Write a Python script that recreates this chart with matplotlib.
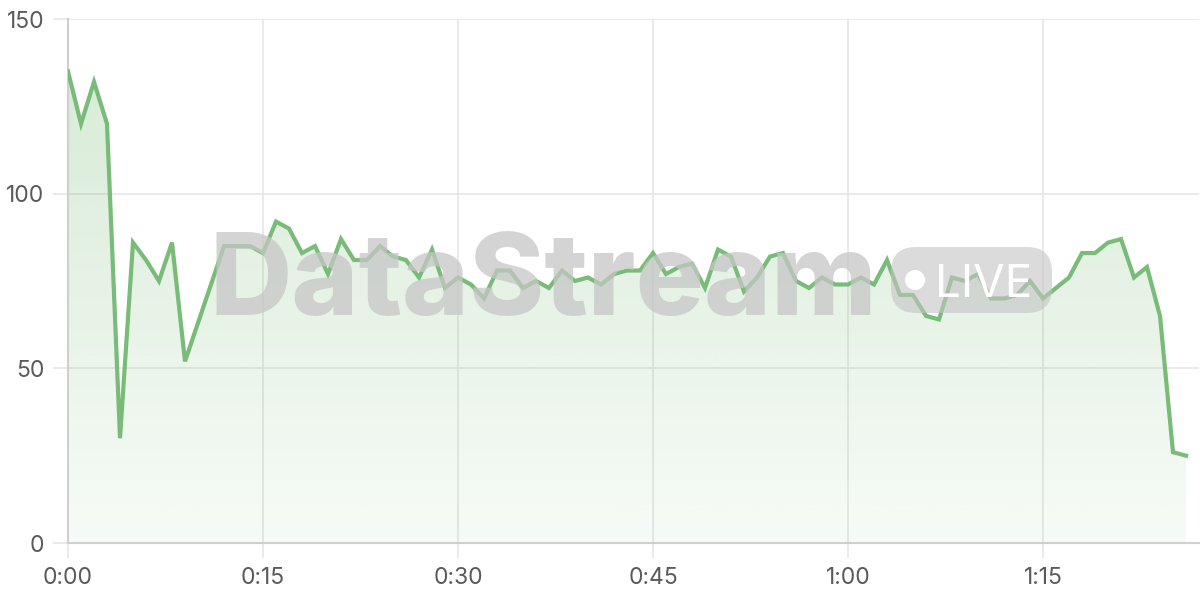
import numpy as np
import matplotlib
matplotlib.use("Agg")
import matplotlib.pyplot as plt
from matplotlib.patches import FancyBboxPatch, Circle

# minutes since start, one reading per minute
minutes = list(range(87))
values = [135, 120, 132, 120, 30, 86, 81, 75, 86, 52,
          63, 74, 85, 85, 85, 83, 92, 90, 83, 85,
          77, 87, 81, 81, 85, 82, 81, 76, 84, 73,
          76, 74, 70, 78, 78, 73, 75, 73, 78, 75,
          76, 74, 77, 78, 78, 83, 77, 79, 80, 73,
          84, 82, 72, 76, 82, 83, 75, 73, 76, 74,
          74, 76, 74, 81, 71, 71, 65, 64, 76, 75,
          77, 70, 70, 71, 75, 70, 73, 76, 83, 83,
          86, 87, 76, 79, 65, 26, 25]
x_ticks = [0, 15, 30, 45, 60, 75]
y_ticks = [0, 50, 100, 150]

line_color = "#79bc79"
grid_color = "#e6e6e6"
axis_color = "#cfcfcf"
label_color = "#5a5a5a"

plt.rcParams['font.family'] = ['Inter', 'DejaVu Sans']

fig = plt.figure(figsize=(12, 6), dpi=100)
ax = fig.add_axes([68 / 1200, 57 / 600, 1131 / 1200, 524 / 600])

# watermark behind the chart (placed in inches from the bottom-left corner)
inch = fig.dpi_scale_trans
fig.text(2.1, 6 - 3.15, "DataStream", transform=inch, fontsize=82,
         fontweight="heavy", color="#c6c6c6", alpha=0.75,
         ha="left", va="baseline", zorder=0)
pill = FancyBboxPatch((8.91, 6 - 3.13), 1.61, 0.66,
                      boxstyle="round,pad=0,rounding_size=0.25",
                      transform=inch, facecolor="#c4c4c4",
                      edgecolor="none", alpha=0.6, zorder=0)
fig.patches.append(pill)
fig.patches.append(Circle((9.15, 6 - 2.80), 0.10, transform=inch,
                          facecolor="white", edgecolor="none", zorder=0.5))
fig.text(9.35, 6 - 2.97, "LIVE", transform=inch, fontsize=33, color="white",
         ha="left", va="baseline", zorder=0.5)

ax.patch.set_alpha(0)

# gradient fill under the line
poly = ax.fill_between(minutes, values, 0, color="none", zorder=2)
grad = np.linspace(0, 1, 256)
rgba = np.zeros((256, 1, 4))
rgba[:, 0, 0] = 0x79 / 255
rgba[:, 0, 1] = 0xbc / 255
rgba[:, 0, 2] = 0x79 / 255
rgba[:, 0, 3] = 0.06 + 0.26 * grad
img = ax.imshow(rgba, extent=[0, 86, 0, 150], origin="lower", aspect="auto", zorder=2)
img.set_clip_path(poly.get_paths()[0], transform=ax.transData)

ax.plot(minutes, values, color=line_color, linewidth=3, zorder=3,
        solid_joinstyle="miter")

ax.set_xlim(0, 87)
ax.set_ylim(0, 150)
ax.set_xticks(x_ticks)
ax.set_xticklabels([f"{m // 60}:{m % 60:02d}" for m in x_ticks])
ax.set_yticks(y_ticks)

ax.grid(True, color=grid_color, linewidth=1.2, zorder=0)
ax.set_axisbelow(True)
for side in ["top", "right"]:
    ax.spines[side].set_visible(False)
for side in ["left", "bottom"]:
    ax.spines[side].set_color(axis_color)
    ax.spines[side].set_linewidth(1.5)
ax.tick_params(axis="both", length=11, width=1.2, color=grid_color,
               labelcolor=label_color, labelsize=16.5, pad=6)

fig.savefig("out.png", dpi=100)
